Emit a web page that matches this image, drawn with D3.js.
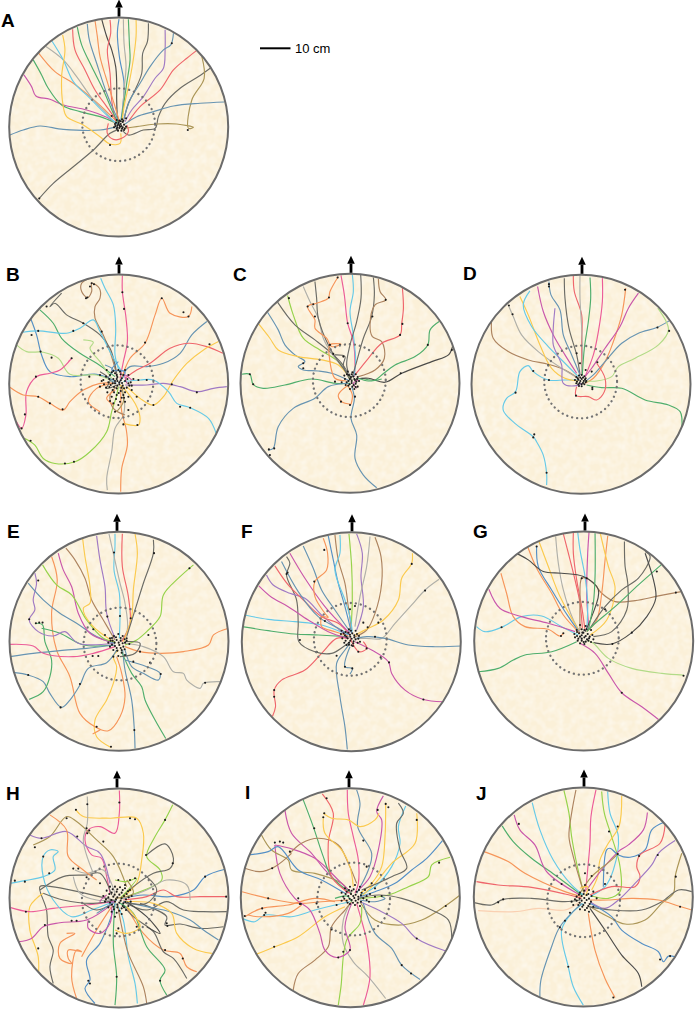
<!DOCTYPE html>
<html>
<head>
<meta charset="utf-8">
<script src="https://cdn.jsdelivr.net/npm/d3@7"></script>
<style>
  html, body { margin: 0; padding: 0; background: #fff; }
  svg { display: block; }
  text { font-family: "Liberation Sans", Arial, sans-serif; fill: #000; }
</style>
</head>
<body>
<div id="chart"></div>
<script>
// each panel is read on its own grid, arena radius is 328 grid units
var panelLetters = ['A','B','C','D','E','F','G','H','I','J'];
var gridX = [356,356,345,348,357,349,356,357,346,355];
var gridY = [381,387,385,388,394,395,393,384,383,381];
var ringX = [356,351,343,347,360,346,352,355,356,356];
var ringY = [374,380,377,381,402,388,385,390,387,392];
var colorKeys = ['bl','st','cy','gr','li','lg','re','pi','ma','pu','or','lo','ye','br','ol','gy','dk','bk'];
var colorVals = ['#5590c6','#6794b2','#66cae8','#4fae6c','#96d34c','#b2db88','#ef666c','#ec5c98','#c957ab','#a07ac4','#f6955a','#fad0b2','#fbca4e','#ad8460','#ab9658','#b0b0a9','#6c6c66','#4c4c4a'];

var tracksA = [
  ['bk',[305,58,320,110,335,150,347,200,350,250,350,300,352,350,355,372]],
  ['re',[330,60,332,100,322,150,330,220,335,300,345,360]],
  ['bl',[357,58,352,100,358,170,372,250,368,320,362,365]],
  ['gy',[370,58,372,130,378,200,372,270,368,350]],
  ['gr',[385,58,388,130,390,180,380,250,370,320,364,360]],
  ['ye',[408,60,408,110,398,190,385,260,372,320,366,362]],
  ['dk',[445,70,442,125,428,160,425,220,405,270,385,310,372,358]],
  ['pu',[495,90,495,150,490,205,465,235,430,290,395,330,375,365]],
  ['st',[520,100,512,135,490,150,450,200,420,250,390,300,372,355]],
  ['re',[592,150,560,175,520,210,480,270,420,320,385,365]],
  ['dk',[630,205,595,230,540,265,495,310,475,350,465,385,430,390,385,405,368,392]],
  ['ol',[605,170,612,235,575,300,565,385,580,382,530,372,470,372,410,380,372,385]],
  ['st',[672,306,600,310,520,318,460,335,410,350,375,372]],
  ['st',[30,405,70,390,120,378,190,388,300,390,350,380]],
  ['ma',[72,225,95,260,108,288,150,298,190,315,260,330,320,352,350,370]],
  ['gr',[100,180,125,225,145,265,185,315,240,335,300,350,345,368]],
  ['or',[115,158,165,215,220,250,270,290,310,325,350,365]],
  ['gy',[138,140,190,180,230,230,280,300,320,340,348,375]],
  ['cy',[155,122,190,180,220,245,270,295,320,345,352,372]],
  ['ye',[188,105,195,150,185,230,190,320,200,350,250,375,300,410,330,432,360,430,362,400]],
  ['re',[218,88,225,150,255,210,285,270,320,320,350,362]],
  ['gr',[232,82,245,135,275,200,310,270,340,340,355,368]],
  ['st',[262,72,268,120,290,190,320,280,345,340,357,366]],
  ['or',[285,62,292,110,300,170,320,240,345,320,358,364]],
  ['dk',[118,595,160,550,220,500,280,450,330,400,355,388]],
  ['re',[325,370,322,400,340,418,365,415,385,395,380,375]]
];
var dotsA = [118,595,563,390,330,435,515,130,335,348,378,355,350,360,358,362,368,366,345,372,352,376,362,372,372,374,342,382,350,386,358,384,368,382,378,380,354,392,364,392,372,390,360,380,348,368,366,358,356,368,364,378,352,382,374,386,346,378,370,362,358,376,366,386,355,372,362,364];

var tracksB = [
  ['pi',[367,62,367,110,378,190,382,260,370,320,360,370]],
  ['cy',[302,70,315,100,340,150,347,220,345,300,358,350]],
  ['br',[270,70,245,85,245,110,262,128,275,110,275,85,298,100,300,130,285,155,285,190,305,230,330,290,350,360]],
  ['dk',[185,115,150,155,165,145,200,180,250,205,300,240,330,280,345,330,352,370]],
  ['gr',[120,165,160,205,185,250,240,295,290,325,345,365]],
  ['bl',[92,190,110,240,125,300,150,350,210,365,290,358,345,378]],
  ['cy',[68,232,115,228,200,235,240,220,280,195,300,230,335,300,365,350]],
  ['lg',[50,270,80,290,130,292,175,310,210,358,290,360,340,380]],
  ['lg',[250,255,280,262,270,280,300,320,335,370]],
  ['pi',[50,500,65,520,78,480,80,410,110,365,150,355,180,345,215,310,205,320]],
  ['or',[30,397,70,420,115,425,150,445,190,465,210,440,250,405,300,385,345,385]],
  ['li',[75,550,105,570,130,610,165,625,225,620,270,590,320,530,335,470,350,420,355,395]],
  ['gy',[322,705,320,670,335,590,345,520,370,480,372,430,358,395]],
  ['or',[362,710,365,640,382,570,378,520,365,470,362,400]],
  ['st',[620,200,575,240,540,295,490,325,440,335,390,335,365,365]],
  ['re',[668,295,620,275,565,265,510,280,450,325,410,345,375,370]],
  ['ye',[655,260,610,285,560,325,520,375,490,425,460,450,420,430,380,395]],
  ['pu',[680,395,640,400,590,410,540,395,490,385,440,390,375,390]],
  ['cy',[648,535,625,490,570,458,530,445,505,410,460,375,420,375,370,380]],
  ['or',[575,155,565,185,510,175,485,130,465,180,435,265,390,310,365,370]],
  ['ye',[370,505,415,510,420,490,410,455,380,410,360,390]],
  ['or',[300,470,265,440,290,400,340,385]],
  ['br',[375,480,340,460,330,420,350,395]],
  ['ol',[350,470,370,440,365,395]],
  ['st',[315,330,340,345,325,370,350,385]],
  ['bl',[355,320,335,345,375,350,355,385]],
  ['dk',[300,350,330,375,320,400,350,390]],
  ['or',[340,450,320,430,345,405]],
  ['ma',[395,375,375,360,380,385]]
];
var dotsB = [367,112,372,162,305,230,262,128,270,95,275,85,282,88,258,130,140,155,220,228,250,205,115,228,95,240,122,290,155,308,108,365,215,310,75,478,65,520,115,425,150,445,188,463,92,557,195,625,222,620,435,263,485,130,550,172,565,185,628,268,515,388,590,412,540,455,570,458,460,450,412,510,370,508,268,365,300,360,355,345,320,345,330,360,345,355,360,350,375,345,385,360,400,372,415,375,440,375,310,375,325,382,340,372,352,366,365,370,375,378,385,385,300,395,318,398,332,390,345,385,358,382,368,392,380,398,395,405,410,425,322,412,338,405,350,400,362,408,375,412,385,425,335,425,350,420,365,428,340,445,355,450,375,440,385,465,345,470,305,378,318,365,340,348,362,358,395,392,335,352,350,360,370,360,328,372,345,378,362,376,382,372,392,382,312,388,328,396,352,392,372,400,388,392,342,412,356,414,370,420,330,438,348,432,360,440,372,428,350,372,358,388,342,396,366,384,338,385,352,378,364,398];

var tracksC = [
  ['pi',[318,62,328,120,338,205,355,260,360,330,358,365]],
  ['cy',[352,60,355,110,345,170,355,240,362,320,356,365]],
  ['dk',[377,60,378,130,365,200,345,270,335,330,345,365]],
  ['dk',[415,68,418,120,410,185,385,250,365,320,352,365]],
  ['br',[430,72,435,110,452,135,420,150,405,210,412,245,440,260,448,310,420,345,370,365]],
  ['re',[502,100,505,160,500,205,495,240,440,265,400,310,360,360]],
  ['gr',[612,200,585,225,578,270,540,305,480,330,440,360,420,375,380,370]],
  ['bk',[652,275,640,300,590,320,500,355,450,382,400,370,365,372]],
  ['gr',[20,358,45,358,55,388,85,400,150,390,230,372,300,385,345,385]],
  ['st',[98,172,130,225,150,270,180,300,210,320,190,335,205,345,250,348,290,355,345,378]],
  ['ye',[72,208,105,250,130,285,190,305,260,315,310,330,345,370]],
  ['li',[158,122,175,180,205,250,255,285,310,320,345,372]],
  ['dk',[128,142,180,210,240,255,290,295,320,325,348,370]],
  ['gy',[205,95,225,140,250,190,265,250,290,295,330,345,350,365]],
  ['dk',[240,80,245,130,250,190,285,280,325,340,352,376]],
  ['or',[310,65,285,110,280,130,245,145,218,155,240,195,240,220,275,250,290,275,318,268,285,270,285,320,300,370,335,378]],
  ['st',[100,585,115,580,130,515,175,460,240,430,280,395,340,385]],
  ['st',[425,698,385,660,360,610,365,540,348,490,358,430,350,395]],
  ['or',[348,448,320,440,310,420,340,390]],
  ['or',[348,448,352,420,340,395]],
  ['ma',[365,400,355,385,370,375]],
  ['dk',[300,300,330,305,325,330,345,375]],
  ['gr',[370,370,400,378,440,372]]
];
var dotsC = [282,128,308,68,235,148,218,155,240,185,162,130,502,207,495,240,412,185,578,270,650,285,497,355,452,135,338,205,45,358,55,388,205,325,205,340,118,580,105,600,102,583,318,440,345,450,360,425,300,380,320,382,285,270,315,270,295,297,325,305,338,350,352,352,362,358,328,362,342,360,355,365,368,366,330,372,345,372,360,375,372,378,335,382,350,384,362,386,368,395,340,392,352,395,358,402,345,402,336,358,348,366,358,372,340,378,350,378,364,380,344,388,356,390,332,390,362,396,350,358,366,372];

var tracksD = [
  ['dk',[298,70,300,130,312,220,335,300,345,360]],
  ['re',[325,62,328,110,350,180,350,260,350,360]],
  ['gy',[345,62,345,130,350,220,352,300,348,360]],
  ['gr',[375,68,377,130,370,200,358,280,352,360]],
  ['pi',[412,70,412,140,400,230,385,300,360,365]],
  ['or',[482,100,470,180,445,260,420,320,385,370,360,385]],
  ['ma',[520,115,490,160,465,215,420,280,380,340,360,365]],
  ['st',[612,198,575,218,520,235,470,265,420,320,385,360,360,380]],
  ['lg',[578,160,610,225,580,270,510,310,460,335,440,365,395,378,360,378]],
  ['gr',[650,520,645,470,610,450,540,435,470,400,410,398,365,390]],
  ['re',[335,395,333,422,370,425,395,435,418,410,420,370,395,325]],
  ['cy',[245,690,245,655,235,600,215,560,205,545,150,505,115,465,125,430,152,410,165,350,190,332,205,350,250,375,300,375,340,375]],
  ['br',[80,200,85,250,130,290,190,315,250,328,300,345,340,370]],
  ['gy',[132,155,145,185,170,240,220,290,290,340,340,370]],
  ['ye',[165,125,190,180,225,270,260,340,300,370,340,378]],
  ['cy',[195,108,175,150,200,215,250,275,300,325,340,365]],
  ['ma',[218,95,235,170,265,240,300,300,335,355]],
  ['pu',[270,160,265,220,265,270,290,330,295,385,335,392,350,385]],
  ['st',[252,80,258,120,285,165,295,240,320,300,345,360]]
];
var dotsD = [252,88,252,95,480,105,132,152,143,178,577,218,612,228,205,348,152,413,252,375,208,538,205,547,245,653,250,330,333,422,382,398,382,403,397,322,345,325,380,350,335,295,362,345,334,366,342,362,350,360,358,364,330,375,340,374,350,372,360,374,334,385,344,384,354,384,362,382,342,393,350,394,338,370,346,368,354,368,362,370,336,380,346,378,356,378,364,378,340,388,350,388,358,388];

var tracksE = [
  ['cy',[345,72,345,110,342,180,358,250,360,320,358,385]],
  ['gy',[327,72,340,130,360,220,375,280,382,360,365,390]],
  ['re',[367,72,367,170,385,260,390,340,365,395]],
  ['ye',[405,72,412,130,400,240,395,320,370,395]],
  ['dk',[460,90,460,130,430,220,405,300,380,380]],
  ['li',[580,165,535,205,490,255,480,320,440,365,410,390,375,405]],
  ['or',[685,355,640,375,625,405,550,425,480,430,420,425,375,410]],
  ['gy',[660,515,610,520,600,535,560,510,550,490,520,485,490,440,430,410,375,400]],
  ['st',[405,715,403,660,395,570,375,480,368,420]],
  ['gr',[497,685,465,630,435,570,425,530,395,490,365,425]],
  ['ye',[333,712,290,680,285,630,320,570,340,520,350,470,340,440,355,420]],
  ['or',[155,140,172,210,155,310,170,420,210,500,240,610,285,650,325,662,360,620,375,560,365,490,350,440]],
  ['st',[45,488,85,495,130,515,150,550,185,592,210,570,240,525,265,475,320,458,350,420]],
  ['gr',[88,568,130,545,150,500,155,450,135,395,128,345,108,340]],
  ['gr',[125,355,180,370,250,405,340,405]],
  ['st',[30,440,100,430,180,422,260,415,345,405]],
  ['pi',[30,403,100,408,130,430,220,440,280,430,345,410]],
  ['pu',[105,190,110,220,100,270,105,300,88,330,115,365,160,378,195,365,235,400,340,400]],
  ['st',[85,220,130,270,180,310,230,340,290,380,345,400]],
  ['ma',[175,130,190,180,215,230,235,310,270,370,330,395]],
  ['li',[128,165,170,225,215,255,260,330,310,385,345,395]],
  ['br',[198,115,225,150,255,205,275,270,310,330,345,390]],
  ['ye',[248,85,255,140,270,230,270,280,250,295,275,345,340,395]],
  ['pu',[290,78,300,150,315,230,320,310,345,385]],
  ['st',[375,450,440,470,480,490,475,510,430,490,395,470,375,420]],
  ['or',[285,668,300,660,278,672]],
  ['dk',[360,440,405,430,420,400,375,395]]
];
var dotsE = [342,128,462,130,568,175,115,212,88,328,108,340,118,338,128,338,85,495,182,592,240,522,360,318,322,320,392,325,445,375,615,518,482,492,450,458,420,425,400,455,290,650,333,710,403,660,280,358,315,375,278,438,295,438,340,440,355,438,375,435,365,420,330,385,342,378,355,372,368,378,380,385,325,398,338,392,350,390,362,392,375,398,388,402,330,410,345,408,358,405,370,410,340,420,352,422,365,428,336,384,348,382,362,384,374,388,332,392,344,398,356,398,368,400,380,392,336,404,350,414,362,414,374,418];

var tracksF = [
  ['li',[342,72,350,170,352,270,348,360]],
  ['pu',[365,72,382,130,378,200,385,290,365,360]],
  ['gy',[405,80,395,170,375,260,360,350]],
  ['br',[420,82,438,140,440,220,420,310,395,360,360,380]],
  ['ye',[532,130,530,160,500,205,490,270,445,330,400,355,360,375]],
  ['gy',[612,208,570,240,530,285,480,340,440,385,395,385,365,385]],
  ['st',[680,408,600,410,520,405,450,385,395,380,365,385]],
  ['ma',[622,575,565,568,510,540,470,490,460,455,410,420,360,395]],
  ['st',[337,718,330,650,315,560,305,460,330,420,345,400]],
  ['re',[113,618,122,590,118,540,140,510,210,480,260,430,305,385,340,385]],
  ['gr',[22,350,100,362,180,372,250,375,340,380]],
  ['cy',[30,315,100,328,180,335,260,345,340,375]],
  ['dk',[155,140,165,160,155,195,185,270,190,340,192,395,240,425,290,430,325,410,345,395]],
  ['ma',[72,228,110,262,160,290,220,330,280,365,340,385]],
  ['pu',[95,195,115,225,165,250,210,265,265,320,340,380]],
  ['re',[120,168,160,225,200,265,260,320,310,340,345,375]],
  ['st',[140,155,190,245,250,320,310,355,345,375]],
  ['ma',[165,130,210,205,270,290,320,345,345,370]],
  ['st',[205,108,235,175,260,240,300,300,345,365]],
  ['or',[265,85,278,130,275,180,240,215,240,260,270,310,280,322,262,320,260,350,300,365,340,378]],
  ['bl',[280,78,295,150,310,220,330,290,350,370]],
  ['br',[300,75,310,150,330,220,340,290,350,360]],
  ['cy',[315,75,315,130,300,180,330,270,345,320,352,365]],
  ['re',[345,385,372,425,395,415,385,395]],
  ['st',[345,492,352,475,330,470,345,410]]
];
var dotsF = [268,120,530,162,570,242,238,215,158,188,155,192,195,390,118,540,118,560,565,568,462,457,437,442,395,415,370,425,305,437,330,470,352,475,245,425,345,298,360,288,385,338,430,338,398,352,420,380,270,333,342,358,320,362,332,366,348,362,362,362,318,372,330,376,345,374,358,376,372,378,322,385,338,385,350,386,362,388,375,395,328,398,342,398,355,400,335,405,350,406,326,370,340,368,352,370,366,372,334,380,346,380,358,382,370,386,332,392,346,392,356,394,368,398,342,404,354,408];

var tracksG = [
  ['ma',[372,66,368,130,365,260,372,360]],
  ['cy',[338,66,345,120,360,200,368,280,365,360]],
  ['re',[325,68,325,130,335,210,350,290,360,360]],
  ['re',[295,72,310,130,330,210,345,280,352,355]],
  ['gy',[272,80,280,160,295,240,325,330,345,365]],
  ['ye',[222,95,250,170,285,260,340,360]],
  ['bl',[215,108,220,170,260,240,310,320,345,370]],
  ['or',[188,110,215,175,260,250,295,315,345,370]],
  ['br',[648,245,580,258,510,272,450,275,410,250,390,225,365,205,350,205,345,280,345,360]],
  ['bk',[158,132,190,150,235,185,290,190,355,200,400,240,380,320,360,365]],
  ['gr',[390,70,390,200,385,280,370,360]],
  ['or',[428,78,420,150,410,250,395,330,365,365]],
  ['ye',[405,68,430,170,450,235,425,330,375,375]],
  ['dk',[478,95,480,170,488,220,485,300,440,365,385,380]],
  ['dk',[540,125,555,140,520,205,470,240,420,290,375,355]],
  ['gr',[588,165,520,225,450,290,385,345,365,365]],
  ['bk',[540,130,565,210,572,265,545,320,500,368,440,402,385,398]],
  ['lg',[655,495,590,490,500,475,430,445,385,400,365,390]],
  ['ma',[580,628,530,590,470,548,430,490,390,430,345,400]],
  ['gr',[40,485,100,475,145,450,180,435,260,425,335,395]],
  ['cy',[35,350,60,365,110,352,170,320,230,318,290,350,340,375]],
  ['or',[108,190,125,250,145,320,180,350,250,358,285,378,295,370]],
  ['ma',[72,238,105,295,170,320,250,340,330,365]]
];
var dotsG = [215,110,575,185,632,248,500,368,442,402,295,370,288,378,655,497,470,548,110,352,350,205,365,205,420,298,345,345,362,348,335,360,350,358,365,358,378,360,328,372,342,370,355,368,368,372,382,375,330,382,345,380,358,382,372,385,385,388,338,392,350,392,362,395,378,396,345,400,358,402,336,366,350,376,362,378,374,380,336,378,350,386,366,388,340,386,356,396,370,392,352,368,358,360];

var tracksH = [
  ['pi',[358,62,358,130,345,190,300,170,265,180,255,210,275,255,305,265,320,320,330,370]],
  ['ye',[228,120,250,140,330,145,410,145,430,190,425,270,410,340,370,380]],
  ['li',[518,105,495,150,465,200,440,260,480,300,485,330,380,380]],
  ['dk',[440,255,495,222,520,265,510,295,460,310,400,350,360,385]],
  ['bl',[675,298,615,320,580,360,510,380,430,375,370,385]],
  ['re',[680,380,600,380,530,380,490,360,440,380,370,390]],
  ['gy',[570,390,560,345,500,330,440,360,370,385]],
  ['dk',[680,425,610,425,550,420,500,395,440,420,370,395]],
  ['dk',[670,470,600,475,540,462,495,465,500,440,420,400]],
  ['st',[655,510,610,480,570,450,510,425,440,410,370,395]],
  ['ye',[635,550,580,535,530,490,515,430,460,400,375,395]],
  ['or',[590,605,560,590,540,550,490,540,430,490,380,410]],
  ['dk',[560,625,520,565,490,545,460,485,400,440,365,400]],
  ['gr',[500,675,480,630,495,600,440,530,400,430,360,400]],
  ['cy',[412,700,405,640,385,560,370,450,350,400]],
  ['br',[440,700,430,650,385,550,365,470,352,400]],
  ['gr',[345,705,350,620,340,520,345,400]],
  ['bl',[285,700,255,655,270,630,260,570,300,520,330,450,345,400]],
  ['or',[230,685,215,620,230,540,245,545,205,540,205,565,215,580,180,565,180,520,225,490,200,490]],
  ['or',[245,560,290,480,335,410]],
  ['dk',[160,640,150,590,160,540,145,500,140,420,120,350,155,350,340,390]],
  ['ye',[115,625,115,560,90,480,90,410,110,385,130,370]],
  ['ma',[55,515,95,505,130,470,180,458,260,450,340,400]],
  ['pi',[30,412,90,425,160,415,260,405,340,395]],
  ['cy',[30,340,75,332,130,320,165,300,160,260,175,245,150,240,130,260,130,320,160,390,215,440,275,420,340,395]],
  ['gy',[225,300,260,310,310,300,345,370]],
  ['gy',[220,320,240,370,290,390,340,390]],
  ['dk',[120,360,190,320,260,315,300,310,335,375]],
  ['ol',[100,225,150,200,200,140,230,155,290,210,340,260,380,350]],
  ['pu',[90,195,125,205,200,185,260,230,300,250,330,340]],
  ['or',[150,135,200,180,205,260,250,300,290,330]],
  ['gy',[262,80,262,160,250,210,280,310]],
  ['ma',[265,450,265,475,300,490,330,460,335,410]],
  ['dk',[440,320,470,360,440,400,390,400]],
  ['dk',[250,400,290,420,340,400]],
  ['st',[290,430,320,410,350,390]],
  ['ye',[345,480,380,490,420,470,380,410]],
  ['li',[345,330,380,335,410,325,360,385]],
  ['ol',[380,330,400,370,345,385]],
  ['ma',[320,375,300,395,345,395]],
  ['bk',[440,470,480,490,440,440,380,395]],
  ['dk',[130,370,190,390,280,400,345,390]]
];
var dotsH = [358,98,262,103,228,120,260,175,268,182,262,190,200,145,125,205,232,200,105,232,310,215,405,148,390,145,495,150,518,280,615,320,678,380,438,255,500,460,502,468,495,540,548,565,480,632,350,620,270,640,265,632,115,535,55,515,75,335,45,332,148,310,130,260,78,425,215,452,230,452,135,465,220,296,235,296,260,322,300,340,405,325,390,330,355,330,375,345,410,470,355,475,350,490,330,350,345,350,360,352,375,355,390,360,320,362,335,368,350,365,365,368,380,372,395,378,310,378,325,382,340,380,352,382,365,385,378,388,392,395,315,395,330,398,345,395,358,398,370,400,385,408,325,412,340,410,352,412,365,415,378,420,335,425,350,428,365,432,345,440,338,358,352,358,368,360,384,364,328,372,344,374,358,374,372,378,386,382,318,388,334,390,348,388,362,392,376,396,336,404,352,404,368,408,342,418,358,422,372,412];

var tracksI = [
  ['pi',[337,60,340,130,355,200,370,270,370,340,360,370]],
  ['st',[365,60,375,100,368,170,410,250,400,300,365,370]],
  ['ma',[445,78,425,125,440,150,430,240,405,320,370,360]],
  ['ye',[452,100,450,200,440,290,410,340,375,370]],
  ['cy',[512,108,490,170,495,220,470,290,420,350,375,375]],
  ['ye',[545,130,540,220,470,280,420,340,380,378]],
  ['dk',[490,100,505,130,485,160,495,240,515,295,470,320,380,360]],
  ['bl',[622,212,575,265,530,300,480,340,420,365,375,380]],
  ['li',[645,262,590,285,580,320,520,350,460,375,375,385]],
  ['ol',[675,375,630,408,560,450,490,465,420,450,375,395]],
  ['dk',[650,510,640,450,590,420,500,385,430,375,370,385]],
  ['pu',[630,542,545,505,500,460,430,420,375,395]],
  ['st',[555,628,500,585,470,535,420,490,385,400]],
  ['gy',[452,685,400,620,355,575,325,520,325,450,345,400]],
  ['pi',[385,705,405,620,395,510,385,470,365,400]],
  ['li',[310,705,318,650,335,510,375,460,380,410]],
  ['br',[175,660,190,610,240,570,280,530,290,470,330,420,350,395]],
  ['ye',[65,552,120,530,190,500,270,440,330,410]],
  ['cy',[22,445,60,455,90,435,170,440,240,420,300,405,345,395]],
  ['or',[30,440,80,415,160,405,240,385,300,395]],
  ['or',[22,365,100,385,190,400,260,395,340,390]],
  ['or',[40,435,70,440,160,430,200,405]],
  ['ma',[120,225,135,310,180,385,225,420,255,490,270,540,305,562,345,540,330,470,350,400]],
  ['ol',[80,195,110,240,160,270,170,300,240,310,320,340,350,375]],
  ['br',[30,295,75,305,120,290,170,250]],
  ['bl',[38,255,100,245,130,230,190,300,260,330,330,370]],
  ['ma',[120,225,165,235,240,265,310,330,350,370]],
  ['ma',[150,120,170,190,230,250,270,300,340,370]],
  ['gr',[205,90,235,170,265,260,290,320,350,370]],
  ['br',[165,250,200,220,250,205,310,225,340,280,365,340]],
  ['re',[262,72,295,130,280,220,290,320,345,370]],
  ['ye',[265,130,290,145,340,150,375,170,420,150,432,130]],
  ['ye',[265,145,270,190,320,240,345,290,355,350]],
  ['gr',[300,385,335,378,350,395]],
  ['st',[440,380,450,385,420,395,375,390]]
];
var dotsI = [275,85,238,175,268,130,265,142,120,218,135,215,145,218,428,120,452,102,460,112,545,150,385,212,612,278,632,408,545,505,500,585,528,610,118,530,30,438,82,415,92,428,88,435,100,385,198,402,190,385,195,402,112,295,165,245,245,400,305,405,310,562,325,545,345,540,290,478,395,290,410,340,420,355,330,355,345,350,360,345,375,350,390,360,405,372,320,368,335,365,350,362,365,365,380,368,395,378,325,380,340,378,355,378,370,380,385,385,320,392,335,392,350,390,362,392,378,395,345,402,360,405,375,408,395,390,420,380,440,378,402,395,342,360,356,358,372,360,332,372,348,372,362,374,378,376,344,386,358,384,370,388,328,386,338,398,354,398,368,398];

var tracksJ = [
  ['li',[297,62,312,130,320,200,335,280,355,365]],
  ['br',[333,60,320,130,312,200,325,260,345,330,358,370]],
  ['pi',[393,60,378,140,375,220,368,300,362,365]],
  ['li',[410,65,418,130,440,200,465,290,465,365,430,385,380,378]],
  ['cy',[428,65,435,130,460,200,445,300,420,350,375,380]],
  ['ye',[470,78,462,170,430,220,405,270,398,320,380,360]],
  ['ma',[547,128,535,180,490,225,460,245,410,300,365,360]],
  ['bl',[595,158,560,180,540,240,495,262,460,255,435,235,425,240,415,350]],
  ['re',[600,165,585,220,525,255,515,290,525,320,510,350,440,350,375,375]],
  ['pu',[630,212,580,250,560,285,510,340,460,390,420,415,375,395]],
  ['ol',[650,250,630,320,625,370,590,400,540,450,480,462,430,440,375,410]],
  ['dk',[680,365,640,360,590,395,530,420,440,420,370,410]],
  ['or',[680,420,640,408,580,390,500,385,430,390,375,390]],
  ['bl',[630,560,610,558,595,575,580,545,530,520,470,480,440,440,375,400]],
  ['bk',[530,650,520,610,470,555,420,480,375,415]],
  ['or',[450,682,420,625,390,540,370,430]],
  ['cy',[355,705,325,650,310,590,290,480,320,430,355,400]],
  ['st',[225,680,228,630,260,530,285,470,350,400]],
  ['lo',[40,422,150,425,220,415,300,420,345,395]],
  ['dk',[28,398,80,405,115,388,200,385,300,395,345,390]],
  ['re',[35,335,100,345,200,352,300,372,350,385]],
  ['or',[58,245,130,275,180,310,300,365,350,380]],
  ['gr',[112,168,145,215,200,265,270,315,350,375]],
  ['ma',[148,135,165,180,210,225,245,305,345,375]],
  ['cy',[202,98,225,180,265,270,320,345,355,375]],
  ['ol',[345,370,380,320,440,270,460,250]],
  ['ye',[345,355,368,350,362,378]]
];
var dotsJ = [458,170,432,185,162,162,522,258,578,255,632,320,645,410,615,558,585,568,310,590,445,682,100,397,115,388,458,252,380,318,420,342,360,310,290,342,285,472,300,452,315,428,360,345,345,368,358,362,372,360,385,365,335,380,350,378,365,375,380,378,395,385,320,395,335,392,350,392,365,390,378,395,325,405,340,405,355,405,370,408,385,410,345,418,360,420,372,425,342,374,356,372,370,372,344,386,358,384,372,386,330,388,344,398,360,398,374,402,352,410,366,414];

var allTracks = [tracksA,tracksB,tracksC,tracksD,tracksE,tracksF,tracksG,tracksH,tracksI,tracksJ];
var allDots = [dotsA,dotsB,dotsC,dotsD,dotsE,dotsF,dotsG,dotsH,dotsI,dotsJ];

// page layout
var width = 697, height = 1010,
    arena_r = 109.5,
    grid_r = 328,
    ring_r = 109,
    page_x = [118.7,118.7,350,581,119,351.3,583.7,119,350.3,583.3],
    page_y = [127,384,383.3,384.3,641.3,641.7,641,898,897.7,897],
    arrow_x = [119,119,351,582,117,352,585,117,349,584],
    label_x = [1,6,233,463,7,241,473,6,245,476],
    label_y = [27,281,281,280,538,538,538,800,799,800];

var color = d3.scaleOrdinal().domain(colorKeys).range(colorVals);

var svg = d3.select('#chart').append('svg')
    .attr('width', width)
    .attr('height', height);

var defs = svg.append('defs');

var paper = defs.append('filter').attr('id', 'paper')
    .attr('x', 0).attr('y', 0).attr('width', 1).attr('height', 1);
paper.append('feTurbulence')
    .attr('type', 'fractalNoise')
    .attr('baseFrequency', 0.14)
    .attr('numOctaves', 2)
    .attr('seed', 4);
paper.append('feColorMatrix')
    .attr('values', '0 0 0 0 1  0 0 0 0 1  0 0 0 0 1  0.9 0 0 0 -0.3');
paper.append('feComposite').attr('in2', 'SourceAlpha').attr('operator', 'in');

defs.append('filter').attr('id', 'soft')
    .append('feGaussianBlur').attr('stdDeviation', 0.35);

function pairs(flat) {
  var out = [];
  for(var i = 0; i < flat.length; i += 2)
    out.push([flat[i], flat[i + 1]]);
  return out;
};

panelLetters.forEach(function(letter, i) {
  var px = page_x[i],
      py = page_y[i],
      x = d3.scaleLinear().domain([gridX[i] - grid_r, gridX[i] + grid_r]).range([px - arena_r, px + arena_r]),
      y = d3.scaleLinear().domain([gridY[i] - grid_r, gridY[i] + grid_r]).range([py - arena_r, py + arena_r]),
      clip_id = 'clip-' + letter,
      grp = svg.append('g');

  defs.append('clipPath').attr('id', clip_id)
    .append('circle').attr('cx', px).attr('cy', py).attr('r', arena_r);

  grp.append('circle').attr('cx', px).attr('cy', py).attr('r', arena_r)
      .attr('fill', '#fbf0d8');
  grp.append('circle').attr('cx', px).attr('cy', py).attr('r', arena_r)
      .attr('fill', '#fff')
      .attr('filter', 'url(#paper)');

  var inner = grp.append('g')
      .attr('clip-path', 'url(#' + clip_id + ')')
      .append('g')
      .attr('filter', 'url(#soft)');

  var line = d3.line()
      .x(function(d) { return x(d[0]); })
      .y(function(d) { return y(d[1]); })
      .curve(d3.curveCatmullRom.alpha(0.5));

  inner.selectAll('path.track')
      .data(allTracks[i])
    .enter().append('path')
      .attr('class', 'track')
      .attr('d', function(d) { return line(pairs(d[1])); })
      .attr('fill', 'none')
      .attr('stroke', function(d) { return color(d[0]); })
      .attr('stroke-width', 1.15)
      .attr('stroke-linejoin', 'round');

  inner.selectAll('circle.stop')
      .data(pairs(allDots[i]))
    .enter().append('circle')
      .attr('class', 'stop')
      .attr('cx', function(d) { return x(d[0]); })
      .attr('cy', function(d) { return y(d[1]); })
      .attr('r', 1.05)
      .attr('fill', '#1c1c1c');

  // dotted ring
  grp.append('circle')
      .attr('cx', x(ringX[i])).attr('cy', y(ringY[i]))
      .attr('r', x(gridX[i] + ring_r) - px)
      .attr('fill', 'none')
      .attr('stroke', '#737373')
      .attr('stroke-width', 2.3)
      .attr('stroke-linecap', 'round')
      .attr('stroke-dasharray', '0.1 4.95');

  grp.append('circle').attr('cx', px).attr('cy', py).attr('r', arena_r)
      .attr('fill', 'none')
      .attr('stroke', '#6b6b6b')
      .attr('stroke-width', 2);

  // arrow on the rim
  var ax = arrow_x[i], top = py - arena_r;
  grp.append('path')
      .attr('d', ['M', ax, top - 1, 'L', ax, top - 10].join(' '))
      .attr('stroke', '#000')
      .attr('stroke-width', 2.8);
  grp.append('path')
      .attr('d', ['M', ax - 3.8, top - 10, 'L', ax, top - 18, 'L', ax + 3.8, top - 10, 'Z'].join(' '))
      .attr('fill', '#000');

  svg.append('text')
      .attr('x', label_x[i])
      .attr('y', label_y[i])
      .attr('font-size', 19)
      .attr('font-weight', 'bold')
      .text(letter);
});

// scale bar
var bar = d3.scaleLinear().domain([0, 10]).range([260, 290.5]);
svg.append('line')
    .attr('x1', bar(0)).attr('x2', bar(10))
    .attr('y1', 48.3).attr('y2', 48.3)
    .attr('stroke', '#000')
    .attr('stroke-width', 2);
svg.append('text')
    .attr('x', 295)
    .attr('y', 52.5)
    .attr('font-size', 13)
    .text('10 cm');
</script>
</body>
</html>
